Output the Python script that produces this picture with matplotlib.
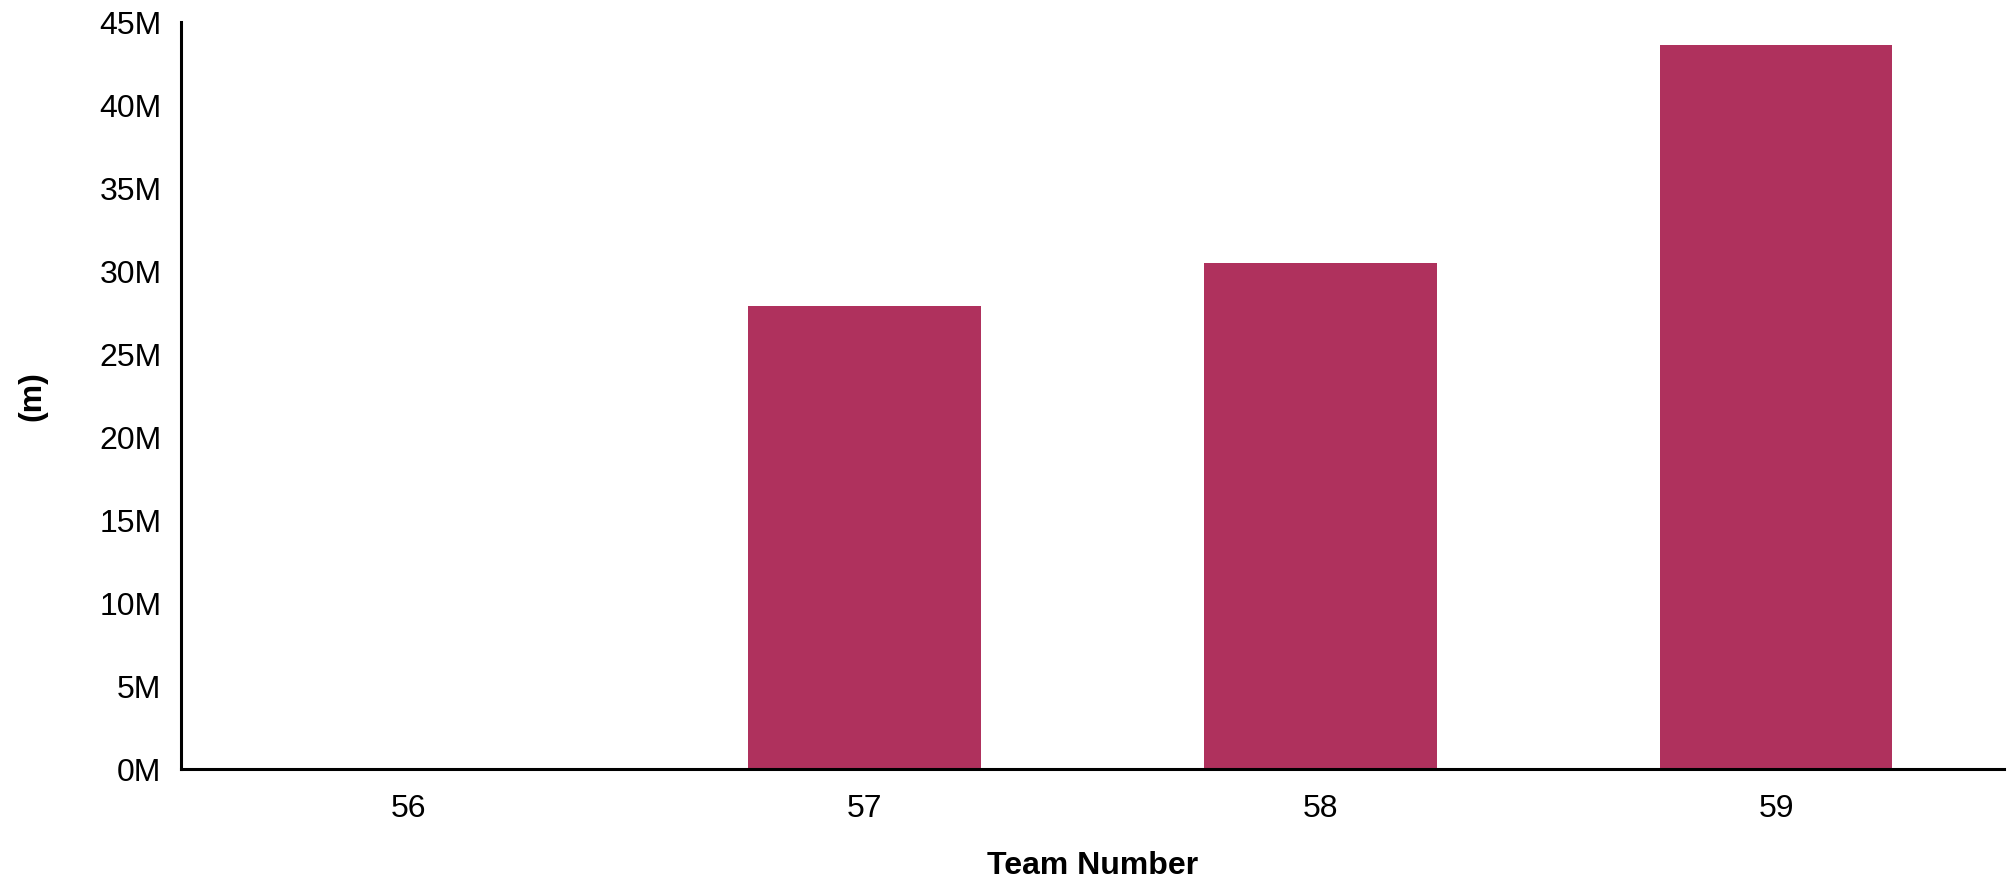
import matplotlib
matplotlib.use("Agg")
import matplotlib.pyplot as plt
from matplotlib.ticker import FuncFormatter, MultipleLocator

# data
teams = ["56", "57", "58", "59"]
values = [0, 27.9e6, 30.5e6, 43.6e6]

BAR_COLOR = "#af315d"

plt.rcParams['font.family'] = ['Liberation Sans', 'DejaVu Sans']

fig = plt.figure(figsize=(20.1, 8.81), dpi=100)
ax = fig.add_axes([0.090, 0.127, 0.907, 0.848])

x = range(len(teams))
ax.bar(x, values, width=0.51, color=BAR_COLOR, zorder=2)

ax.set_xlim(-0.5, 3.5)
ax.set_ylim(0, 45e6)
ax.set_xticks(list(x))
ax.set_xticklabels(teams)
ax.yaxis.set_major_locator(MultipleLocator(5e6))
ax.yaxis.set_major_formatter(FuncFormatter(lambda v, p: f"{v / 1e6:.0f}M"))

ax.tick_params(axis="both", length=0, labelsize=23, colors="black")
ax.tick_params(axis="y", pad=14)
ax.tick_params(axis="x", pad=18)

for side in ["top", "right"]:
    ax.spines[side].set_visible(False)
for side in ["left", "bottom"]:
    ax.spines[side].set_linewidth(2.2)
    ax.spines[side].set_color("black")
ax.spines["bottom"].set_zorder(3)

ax.set_xlabel("Team Number", fontsize=23, fontweight="bold")
ax.set_ylabel("(m)", fontsize=23, fontweight="bold")
ax.xaxis.set_label_coords(0.5, -0.110)
ax.yaxis.set_label_coords(-0.0735, 0.5)

fig.savefig("out.png", dpi=100)
